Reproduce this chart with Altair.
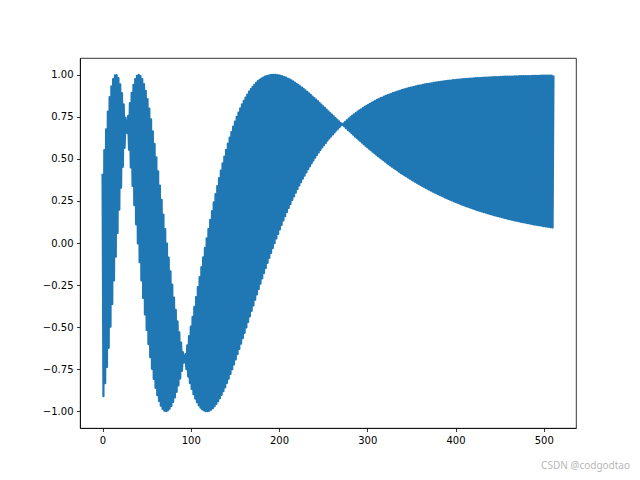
import altair as alt
import pandas as pd

# Even-index values (sin component) read from the upper/lower envelope
sin_vals = [
    0.412, 0.552, 0.676, 0.782, 0.867, 0.932, 0.975, 0.997, 0.998, 0.980,
    0.944, 0.892, 0.825, 0.745, 0.654, 0.555, 0.449, 0.339, 0.225, 0.111,
    -0.003, -0.114, -0.223, -0.327, -0.425, -0.517, -0.601, -0.679, -0.748, -0.808,
    -0.861, -0.905, -0.940, -0.967, -0.986, -0.997, -1.000, -0.996, -0.986, -0.969,
    -0.946, -0.918, -0.885, -0.847, -0.806, -0.761, -0.712, -0.661, -0.608, -0.553,
    -0.497, -0.439, -0.380, -0.321, -0.262, -0.203, -0.144, -0.086, -0.029, 0.028,
    0.083, 0.137, 0.190, 0.241, 0.291, 0.339, 0.386, 0.431, 0.473, 0.514,
    0.554, 0.591, 0.626, 0.660, 0.692, 0.722, 0.750, 0.776, 0.801, 0.824,
    0.845, 0.865, 0.883, 0.900, 0.915, 0.929, 0.941, 0.952, 0.962, 0.970,
    0.978, 0.984, 0.989, 0.993, 0.996, 0.998, 1.000, 1.000, 1.000, 0.999,
    0.997, 0.994, 0.991, 0.987, 0.983, 0.978, 0.973, 0.967, 0.961, 0.954,
    0.947, 0.940, 0.932, 0.924, 0.916, 0.907, 0.899, 0.890, 0.881, 0.871,
    0.862, 0.853, 0.843, 0.833, 0.823, 0.813, 0.803, 0.793, 0.783, 0.773,
    0.763, 0.753, 0.743, 0.733, 0.723, 0.713, 0.703, 0.693, 0.683, 0.673,
    0.663, 0.654, 0.644, 0.634, 0.625, 0.615, 0.606, 0.597, 0.588, 0.578,
    0.569, 0.561, 0.552, 0.543, 0.534, 0.526, 0.517, 0.509, 0.501, 0.493,
    0.485, 0.477, 0.469, 0.461, 0.454, 0.446, 0.439, 0.432, 0.424, 0.417,
    0.410, 0.403, 0.397, 0.390, 0.383, 0.377, 0.370, 0.364, 0.358, 0.352,
    0.346, 0.340, 0.334, 0.328, 0.323, 0.317, 0.312, 0.306, 0.301, 0.296,
    0.291, 0.286, 0.281, 0.276, 0.271, 0.266, 0.262, 0.257, 0.253, 0.248,
    0.244, 0.240, 0.236, 0.231, 0.227, 0.223, 0.219, 0.216, 0.212, 0.208,
    0.204, 0.201, 0.197, 0.194, 0.190, 0.187, 0.184, 0.181, 0.177, 0.174,
    0.171, 0.168, 0.165, 0.162, 0.159, 0.157, 0.154, 0.151, 0.148, 0.146,
    0.143, 0.141, 0.138, 0.136, 0.133, 0.131, 0.129, 0.126, 0.124, 0.122,
    0.120, 0.118, 0.116, 0.113, 0.111, 0.109, 0.108, 0.106, 0.104, 0.102,
    0.100, 0.098, 0.097, 0.095, 0.093, 0.092,
]

# Odd-index values (cos component)
cos_vals = [
    -0.911, -0.834, -0.737, -0.623, -0.498, -0.363, -0.223, -0.081, 0.060, 0.198,
    0.329, 0.453, 0.566, 0.667, 0.756, 0.832, 0.893, 0.941, 0.974, 0.994,
    1.000, 0.993, 0.975, 0.945, 0.905, 0.856, 0.799, 0.735, 0.664, 0.589,
    0.509, 0.426, 0.342, 0.256, 0.169, 0.083, -0.003, -0.087, -0.168, -0.248,
    -0.324, -0.397, -0.466, -0.531, -0.592, -0.649, -0.702, -0.750, -0.794, -0.833,
    -0.868, -0.899, -0.925, -0.947, -0.965, -0.979, -0.990, -0.996, -1.000, -1.000,
    -0.997, -0.991, -0.982, -0.970, -0.957, -0.941, -0.923, -0.903, -0.881, -0.858,
    -0.833, -0.807, -0.779, -0.751, -0.722, -0.692, -0.661, -0.630, -0.599, -0.566,
    -0.534, -0.502, -0.469, -0.436, -0.403, -0.371, -0.338, -0.306, -0.274, -0.242,
    -0.210, -0.179, -0.149, -0.118, -0.088, -0.059, -0.030, -0.001, 0.027, 0.054,
    0.081, 0.108, 0.134, 0.159, 0.184, 0.208, 0.232, 0.255, 0.277, 0.299,
    0.321, 0.342, 0.362, 0.382, 0.401, 0.420, 0.439, 0.456, 0.474, 0.490,
    0.507, 0.523, 0.538, 0.553, 0.568, 0.582, 0.595, 0.609, 0.622, 0.634,
    0.646, 0.658, 0.669, 0.680, 0.691, 0.701, 0.711, 0.721, 0.730, 0.740,
    0.748, 0.757, 0.765, 0.773, 0.781, 0.788, 0.795, 0.802, 0.809, 0.816,
    0.822, 0.828, 0.834, 0.840, 0.845, 0.851, 0.856, 0.861, 0.865, 0.870,
    0.875, 0.879, 0.883, 0.887, 0.891, 0.895, 0.899, 0.902, 0.905, 0.909,
    0.912, 0.915, 0.918, 0.921, 0.924, 0.926, 0.929, 0.931, 0.934, 0.936,
    0.938, 0.940, 0.943, 0.945, 0.946, 0.948, 0.950, 0.952, 0.954, 0.955,
    0.957, 0.958, 0.960, 0.961, 0.963, 0.964, 0.965, 0.966, 0.968, 0.969,
    0.970, 0.971, 0.972, 0.973, 0.974, 0.975, 0.976, 0.976, 0.977, 0.978,
    0.979, 0.980, 0.980, 0.981, 0.982, 0.982, 0.983, 0.984, 0.984, 0.985,
    0.985, 0.986, 0.986, 0.987, 0.987, 0.988, 0.988, 0.989, 0.989, 0.989,
    0.990, 0.990, 0.990, 0.991, 0.991, 0.991, 0.992, 0.992, 0.992, 0.993,
    0.993, 0.993, 0.993, 0.994, 0.994, 0.994, 0.994, 0.994, 0.995, 0.995,
    0.995, 0.995, 0.995, 0.995, 0.996, 0.996,
]

x_ticks = [0, 100, 200, 300, 400, 500]
y_ticks = [-1.0, -0.75, -0.5, -0.25, 0.0, 0.25, 0.5, 0.75, 1.0]
watermark = "CSDN @codgodtao"

rows = []
for k, (s, c) in enumerate(zip(sin_vals, cos_vals)):
    rows.append({"i": 2 * k, "v": s})
    rows.append({"i": 2 * k + 1, "v": c})
df = pd.DataFrame(rows)

line = alt.Chart(df).mark_line(
    color="#1f77b4", strokeWidth=2.2, strokeJoin="round", strokeCap="butt", clip=True
).encode(
    x=alt.X("i:Q", scale=alt.Scale(domain=[-25.55, 536.55], nice=False, zero=False),
            axis=alt.Axis(values=x_ticks, format="d", title=None)),
    y=alt.Y("v:Q", scale=alt.Scale(domain=[-1.1, 1.1], nice=False, zero=False),
            axis=alt.Axis(values=y_ticks, format=".2f", title=None)),
    order="i:Q",
)

wm = alt.Chart(pd.DataFrame({"t": [watermark]})).mark_text(
    align="right", baseline="middle", fontSize=10, font="Noto Sans",
    color="#b8b8b8",
).encode(x=alt.value(550), y=alt.value(408), text="t:N")

chart = alt.layer(line, wm).properties(
    width=496, height=370,
    autosize=alt.AutoSizeParams(type="none"),
    padding={"left": 72, "top": 50, "right": 56, "bottom": 45},
).configure_view(
    stroke="black", strokeWidth=0.8
).configure_axis(
    grid=False, domainColor="black", domainWidth=0.8,
    tickColor="black", tickWidth=0.8, tickSize=3.5,
    labelFont="DejaVu Sans", labelFontSize=10, labelColor="black",
    labelPadding=3.5,
)

chart.save("out.html", embed_options={"renderer": "svg", "actions": False})
